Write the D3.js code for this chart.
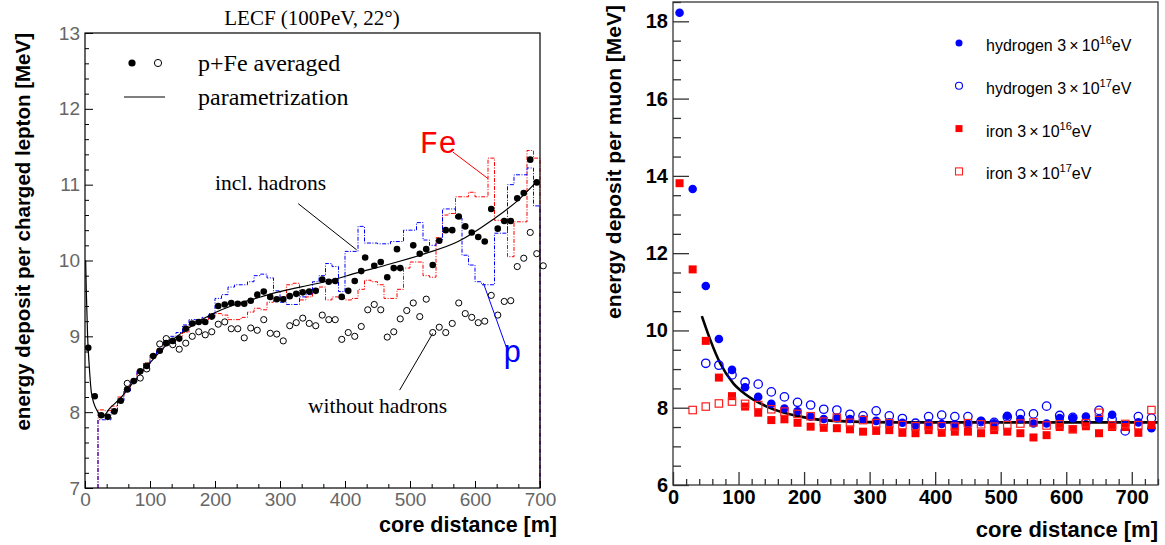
<!DOCTYPE html>
<html>
<head>
<meta charset="utf-8">
<script src="https://cdn.jsdelivr.net/npm/d3@7"></script>
<style>
  html, body { margin: 0; padding: 0; background: #fff; }
  svg { display: block; }
</style>
</head>
<body>
<svg id="chart" width="1165" height="545"></svg>
<script>
// ---- left panel: LECF (100PeV, 22 deg), per charged lepton ----
var leftDotX = [5,15,25,35,45,55,65,75,85,95,105,115,125,135,145,155,165,175,185,195,
  205,215,225,235,245,255,265,275,285,295,305,315,325,335,345,355,365,375,385,395,
  405,415,425,431,445,455,465,475,480,485,505,515,525,535,545,555,565,575,585,595,
  605,615,625,635,645,655,665,675,685,695];
var leftDotY = [8.85,8.21,7.96,7.94,8.01,8.15,8.30,8.41,8.54,8.61,
  8.74,8.81,8.91,8.94,8.97,9.10,9.17,9.19,9.19,9.26,
  9.40,9.42,9.44,9.43,9.43,9.47,9.55,9.59,9.52,9.49,
  9.49,9.53,9.56,9.58,9.59,9.60,9.75,9.72,9.73,9.52,
  9.60,9.73,9.86,10.04,9.93,9.98,9.78,9.90,10.15,9.90,
  10.20,10.09,10.15,9.94,10.26,10.40,10.40,10.58,10.45,10.37,
  10.31,10.25,10.68,10.42,10.52,10.52,10.82,10.89,11.33,11.03];

var leftOpenX = [65,85,95,115,125,135,145,155,165,175,185,195,
  205,215,225,235,245,255,265,275,285,295,305,315,325,335,345,355,365,375,385,395,
  405,415,425,435,445,455,465,475,485,495,505,515,525,535,545,555,565,575,585,595,
  605,615,625,635,645,655,665,675,685,695,705];
var leftOpenY = [8.38,8.45,8.57,8.90,8.97,8.89,8.83,8.91,9.00,9.06,9.02,9.06,
  9.16,9.19,9.10,9.10,8.98,9.11,9.08,9.22,9.04,9.03,
  8.94,9.14,9.18,9.24,9.17,9.14,9.28,9.22,9.22,8.96,
  9.05,9.00,9.13,9.35,9.42,9.35,8.99,9.06,9.23,9.34,
  9.44,9.26,9.49,9.05,9.12,9.05,9.17,9.44,9.30,9.25,
  9.18,9.20,9.54,9.28,9.46,9.47,9.92,10.03,10.37,10.09,9.93];

var paramX = [1,2,4,6.6,10,18,28,38,54,74,95,126,156,197,228,259,295,331,369,420,472,523,574,626,667,697];
var paramY = [10.0,9.6,9.0,8.6,8.25,8.03,7.95,8.05,8.18,8.39,8.60,8.89,9.09,9.30,9.41,9.49,9.58,9.65,9.72,9.84,9.96,10.09,10.25,10.53,10.80,11.06];

// histograms, 10 m bins starting at 20 m
var histBinWidth = 10;
var histP = [7.90,7.90,8.00,8.15,8.28,8.40,8.55,8.62,
  8.75,8.82,8.92,9.00,9.05,9.15,9.22,9.22,9.25,9.30,
  9.50,9.55,9.65,9.68,9.68,9.72,9.80,9.82,9.77,9.60,
  9.45,9.42,9.42,9.52,9.55,9.72,9.80,9.96,9.92,9.59,
  10.12,10.12,10.45,10.23,10.23,10.22,10.22,10.25,10.25,10.40,
  10.40,10.50,10.27,10.20,10.27,10.68,10.68,10.56,10.07,9.94,
  9.72,9.68,9.68,10.36,10.36,11.00,11.13,11.13,11.22,10.72];
var histFe = [8.03,8.02,8.08,8.20,8.30,8.42,8.55,8.65,
  8.75,8.83,8.90,8.95,9.00,9.05,9.15,9.20,9.22,9.25,
  9.30,9.28,9.22,9.22,9.25,9.32,9.37,9.35,9.45,9.50,
  9.52,9.68,9.70,9.48,9.52,9.62,9.65,9.48,9.52,9.50,
  9.48,9.50,9.62,9.74,9.72,9.68,9.50,9.50,9.62,9.90,
  9.98,9.98,9.80,9.78,10.30,10.60,10.62,10.84,10.84,10.90,
  10.84,10.84,11.35,10.53,10.52,10.05,10.51,10.51,11.45,11.35];

var leftXTicks = [0,100,200,300,400,500,600,700];
var leftYTicks = [7,8,9,10,11,12,13];

// ---- right panel: energy deposit per muon ----
var rightX = [10,30,50,70,90,110,130,150,170,190,210,230,250,270,290,310,330,350,370,
  390,410,430,450,470,490,510,530,550,570,590,610,630,650,670,690,710,730];
var hydro16 = [18.22,13.66,11.15,9.78,8.98,8.53,8.28,8.10,7.98,7.91,7.77,7.71,7.73,7.71,7.70,7.66,7.62,7.61,7.54,
  7.60,7.58,7.57,7.57,7.66,7.60,7.79,7.71,7.59,7.59,7.73,7.73,7.77,7.72,7.82,7.55,7.62,7.47];
var hydro17 = [null,null,9.15,9.10,8.85,8.66,8.61,8.41,8.28,8.14,8.07,7.96,7.94,7.83,7.79,7.92,7.79,7.72,7.60,
  7.77,7.81,7.77,7.77,7.64,7.62,7.76,7.84,7.84,8.04,7.80,7.75,7.62,7.93,7.70,7.40,7.77,7.73];
var iron16 = [13.81,11.58,9.73,8.78,8.30,8.03,7.87,7.68,7.70,7.61,7.51,7.48,7.47,7.44,7.38,7.40,7.42,7.35,7.34,
  7.42,7.35,7.38,7.38,7.34,7.42,7.38,7.34,7.23,7.29,7.50,7.45,7.52,7.34,7.50,7.50,7.35,7.55];
var iron17 = [null,7.94,8.03,8.11,8.16,8.10,8.07,7.96,7.90,7.84,7.78,7.64,7.74,7.61,7.68,7.60,7.60,7.55,7.52,
  7.53,7.52,7.51,7.60,7.57,7.51,7.55,7.59,7.62,7.54,7.57,7.44,7.60,7.87,7.54,7.58,7.55,7.94];
var fitX = [44,57,72,92,112,143,194,245,346,500,740];
var fitY = [10.37,9.75,9.15,8.63,8.33,8.03,7.77,7.66,7.62,7.62,7.62];

var rightXTicks = [0,100,200,300,400,500,600,700];
var rightYTicks = [6,8,10,12,14,16,18];

(function () {
  'use strict';

  var svg = d3.select('#chart');
  var SANS = '"Liberation Sans", Arial, sans-serif',
      SERIF = '"Liberation Serif", "Times New Roman", serif',
      MONO = '"Liberation Mono", "Courier New", monospace';

  var xL = d3.scaleLinear().domain([0, 700]).range([85, 540]),
      yL = d3.scaleLinear().domain([7, 13]).range([488, 33]);
  var xR = d3.scaleLinear().domain([0, 740]).range([673, 1158]),
      yR = d3.scaleLinear().domain([6, 18.5]).range([485, 2]);

  // minor tick values between majors
  function minorTicks (scale, step, sub) {
    var d = scale.domain(), out = [];
    var n = Math.round((d[1] - d[0]) / (step / sub));
    for (var i = 0; i <= n; i++) {
      var v = d[0] + i * step / sub;
      if (Math.abs(Math.round(v / step) * step - v) > 1e-6) out.push(v);
    }
    return out;
  }

  function axis (g, axisFn, scale, values, size, pad, fmt, translate) {
    var a = axisFn(scale).tickValues(values).tickSize(-size).tickPadding(pad)
        .tickFormat(fmt);
    var grp = g.append('g').attr('transform', translate).call(a);
    grp.select('.domain').remove();
    return grp;
  }

  // ================= LEFT PANEL =================
  var left = svg.append('g').attr('class', 'left');

  // histograms
  function histPath (vals) {
    var base = yL.domain()[0];
    var lows = d3.range(20, 700, histBinWidth);
    var pts = [[lows[0], base]];
    lows.forEach(function (lo, i) {
      pts.push([lo, vals[i]]);
      pts.push([lo + histBinWidth, vals[i]]);
    });
    pts.push([lows[lows.length - 1] + histBinWidth, base]);
    return d3.line().x(function (d) { return xL(d[0]); })
        .y(function (d) { return yL(Math.max(d[1], base)); })(pts);
  }

  left.append('path').attr('d', histPath(histFe))
      .attr('fill', 'none').attr('stroke', '#ff0000').attr('stroke-width', 1)
      .attr('stroke-dasharray', '4,1.5,1,1.5');
  left.append('path').attr('d', histPath(histP))
      .attr('fill', 'none').attr('stroke', '#0000ff').attr('stroke-width', 1)
      .attr('stroke-dasharray', '4,1.5,1,1.5');

  // parametrization
  left.append('path')
      .datum(paramX.map(function (x, i) { return [x, paramY[i]]; }))
      .attr('fill', 'none').attr('stroke', '#000').attr('stroke-width', 1.2)
      .attr('d', d3.line().curve(d3.curveMonotoneX)
        .x(function (d) { return xL(d[0]); })
        .y(function (d) { return yL(d[1]); }));

  // open circles: without hadrons
  left.append('g').selectAll('circle')
      .data(leftOpenX.map(function (x, i) { return [x, leftOpenY[i]]; }))
      .enter().append('circle')
      .attr('cx', function (d) { return xL(d[0]); })
      .attr('cy', function (d) { return yL(d[1]); })
      .attr('r', 3.1).attr('fill', '#fff').attr('stroke', '#000').attr('stroke-width', 1);

  // filled dots: incl. hadrons
  left.append('g').selectAll('circle')
      .data(leftDotX.map(function (x, i) { return [x, leftDotY[i]]; }))
      .enter().append('circle')
      .attr('cx', function (d) { return xL(d[0]); })
      .attr('cy', function (d) { return yL(d[1]); })
      .attr('r', 3.3).attr('fill', '#000');

  // frame
  left.append('rect').attr('x', xL.range()[0]).attr('y', yL.range()[1])
      .attr('width', xL.range()[1] - xL.range()[0])
      .attr('height', yL.range()[0] - yL.range()[1])
      .attr('fill', 'none').attr('stroke', '#000').attr('stroke-width', 1.2);

  // axes
  var lAxY = axis(left, d3.axisLeft, yL, leftYTicks, 8, 5, d3.format('d'), 'translate(' + xL.range()[0] + ',0)');
  axis(left, d3.axisLeft, yL, minorTicks(yL, 1, 5), 4, 5, '', 'translate(' + xL.range()[0] + ',0)');
  var lAxX = axis(left, d3.axisBottom, xL, leftXTicks, 7, 5, d3.format('d'), 'translate(0,' + yL.range()[0] + ')');
  axis(left, d3.axisBottom, xL, minorTicks(xL, 100, 3), 4, 5, '', 'translate(0,' + yL.range()[0] + ')');
  left.selectAll('.tick line').attr('stroke', '#000');
  [lAxY, lAxX].forEach(function (a) {
    a.selectAll('text').attr('font-family', SANS).attr('font-size', 19).attr('fill', '#666');
  });

  // titles
  left.append('text').attr('x', 312).attr('y', 25).attr('text-anchor', 'middle')
      .attr('font-family', SERIF).attr('font-size', 21).text('LECF (100PeV, 22\u00B0)');
  left.append('text').attr('x', xL.range()[1] + 17).attr('y', 532).attr('text-anchor', 'end')
      .attr('font-family', SANS).attr('font-weight', 'bold').attr('font-size', 21.5)
      .text('core distance [m]');
  left.append('text').attr('transform', 'translate(30,' + yL.range()[1] + ') rotate(-90)')
      .attr('text-anchor', 'end')
      .attr('font-family', SANS).attr('font-weight', 'bold').attr('font-size', 20.5)
      .text('energy deposit per charged lepton [MeV]');

  // legend
  var lg = left.append('g');
  lg.append('circle').attr('cx', 132).attr('cy', 63).attr('r', 3.6).attr('fill', '#000');
  lg.append('circle').attr('cx', 158).attr('cy', 63).attr('r', 3.6).attr('fill', '#fff')
      .attr('stroke', '#000').attr('stroke-width', 1);
  lg.append('text').attr('x', 198).attr('y', 71).attr('font-family', SERIF).attr('font-size', 24)
      .text('p+Fe averaged');
  lg.append('line').attr('x1', 124).attr('x2', 165).attr('y1', 97).attr('y2', 97)
      .attr('stroke', '#000').attr('stroke-width', 1.2);
  lg.append('text').attr('x', 198).attr('y', 105).attr('font-family', SERIF).attr('font-size', 24)
      .text('parametrization');

  // annotations (data coordinates)
  function note (txt, at, from, to, color, font, size) {
    left.append('text').attr('x', xL(at[0])).attr('y', yL(at[1]))
        .attr('font-family', font).attr('font-size', size).attr('fill', color).text(txt);
    left.append('line').attr('x1', xL(from[0])).attr('y1', yL(from[1]))
        .attr('x2', xL(to[0])).attr('y2', yL(to[1]))
        .attr('stroke', color).attr('stroke-width', 1);
  }
  note('incl. hadrons', [200, 10.93], [328, 10.75], [418, 10.14], '#000', SERIF, 21.5);
  note('without hadrons', [343, 7.99], [484, 8.29], [535, 9.04], '#000', SERIF, 21.5);
  note('Fe', [515, 11.42], [566, 11.43], [620, 11.08], '#ff0000', MONO, 31);
  note('p', [643, 8.66], [613, 9.70], [648, 8.86], '#0000ff', MONO, 31);

  // ================= RIGHT PANEL =================
  var right = svg.append('g').attr('class', 'right');

  // fit
  right.append('path')
      .datum(fitX.map(function (x, i) { return [x, fitY[i]]; }))
      .attr('fill', 'none').attr('stroke', '#000').attr('stroke-width', 2.6)
      .attr('d', d3.line().curve(d3.curveMonotoneX)
        .x(function (d) { return xR(d[0]); })
        .y(function (d) { return yR(d[1]); }));

  function series (vals, kind, color) {
    var pts = rightX.map(function (x, i) { return [x, vals[i]]; })
        .filter(function (d) { return d[1] !== null; });
    var g = right.append('g');
    if (kind === 'circle' || kind === 'ocircle') {
      g.selectAll('circle').data(pts).enter().append('circle')
        .attr('cx', function (d) { return xR(d[0]); })
        .attr('cy', function (d) { return yR(d[1]); })
        .attr('r', kind === 'circle' ? 4.3 : 4.2)
        .attr('fill', kind === 'circle' ? color : 'none')
        .attr('stroke', color).attr('stroke-width', kind === 'circle' ? 0 : 1.3);
    } else {
      var s = kind === 'square' ? 8 : 7.4;
      g.selectAll('rect').data(pts).enter().append('rect')
        .attr('x', function (d) { return xR(d[0]) - s / 2; })
        .attr('y', function (d) { return yR(d[1]) - s / 2; })
        .attr('width', s).attr('height', s)
        .attr('fill', kind === 'square' ? color : 'none')
        .attr('stroke', kind === 'square' ? 'none' : color).attr('stroke-width', 1.2);
    }
  }
  series(hydro16, 'circle', '#0000ff');
  series(hydro17, 'ocircle', '#0000ff');
  series(iron16, 'square', '#ff0000');
  series(iron17, 'osquare', '#ff2020');

  // frame
  right.append('rect').attr('x', xR.range()[0]).attr('y', yR.range()[1])
      .attr('width', xR.range()[1] - xR.range()[0])
      .attr('height', yR.range()[0] - yR.range()[1])
      .attr('fill', 'none').attr('stroke', '#444').attr('stroke-width', 1.4);

  var rAxY = axis(right, d3.axisLeft, yR, rightYTicks, 16, 5, d3.format('d'), 'translate(' + xR.range()[0] + ',0)');
  axis(right, d3.axisLeft, yR, minorTicks(yR, 2, 4).filter(function (v) { return v <= 18.5; }), 8, 5, '', 'translate(' + xR.range()[0] + ',0)');
  var rAxX = axis(right, d3.axisBottom, xR, rightXTicks, 13, 5, d3.format('d'), 'translate(0,' + yR.range()[0] + ')');
  axis(right, d3.axisBottom, xR, minorTicks(xR, 100, 5), 6, 5, '', 'translate(0,' + yR.range()[0] + ')');
  right.selectAll('.tick line').attr('stroke', '#333').attr('stroke-width', 1.3);
  [rAxY, rAxX].forEach(function (a) {
    a.selectAll('text').attr('font-family', SANS).attr('font-weight', 'bold')
      .attr('font-size', 20).attr('fill', '#000');
  });

  right.append('text').attr('x', xR.range()[1]).attr('y', 537).attr('text-anchor', 'end')
      .attr('font-family', SANS).attr('font-weight', 'bold').attr('font-size', 22)
      .text('core distance [m]');
  right.append('text').attr('transform', 'translate(621,' + (yR.range()[1] + 3) + ') rotate(-90)')
      .attr('text-anchor', 'end')
      .attr('font-family', SANS).attr('font-weight', 'bold').attr('font-size', 21)
      .text('energy deposit per muon [MeV]');

  // legend
  var legendRows = [
    {name: 'hydrogen', exp: '16', kind: 'circle', color: '#0000ff'},
    {name: 'hydrogen', exp: '17', kind: 'ocircle', color: '#0000ff'},
    {name: 'iron', exp: '16', kind: 'square', color: '#ff0000'},
    {name: 'iron', exp: '17', kind: 'osquare', color: '#ff2020'}
  ];
  var rl = right.append('g').attr('transform', 'translate(959,43)');
  legendRows.forEach(function (r, i) {
    var row = rl.append('g').attr('transform', 'translate(0,' + (i * 42.8) + ')');
    if (r.kind === 'circle' || r.kind === 'ocircle') {
      row.append('circle').attr('r', 3.5)
        .attr('fill', r.kind === 'circle' ? r.color : 'none')
        .attr('stroke', r.color).attr('stroke-width', r.kind === 'circle' ? 0 : 1.1);
    } else {
      row.append('rect').attr('x', -3.5).attr('y', -3.5).attr('width', 7).attr('height', 7)
        .attr('fill', r.kind === 'square' ? r.color : 'none')
        .attr('stroke', r.kind === 'square' ? 'none' : r.color).attr('stroke-width', 1.1);
    }
    var t = row.append('text').attr('x', 27).attr('y', 8)
        .attr('font-family', SANS).attr('font-size', 16).attr('fill', '#000');
    t.append('tspan').text(r.name + ' 3\u2009\u00D7\u200910');
    t.append('tspan').attr('dy', -7).attr('font-size', 11).text(r.exp);
    t.append('tspan').attr('dy', 7).text('eV');
  });
})();
</script>
</body>
</html>
